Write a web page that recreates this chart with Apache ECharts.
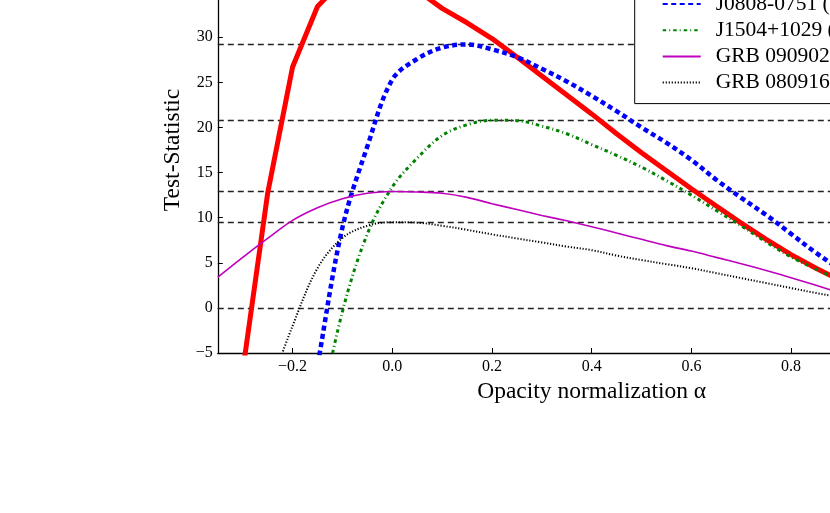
<!DOCTYPE html>
<html><head><meta charset="utf-8">
<script src="https://cdn.jsdelivr.net/npm/echarts@6/dist/echarts.min.js"></script>
<style>html,body{margin:0;padding:0;background:#fff}#c{width:830px;height:513px}</style>
</head><body><div id="c"></div>
<script>
// Opacity normalization alpha (x values)
const alpha = [-0.35,-0.30,-0.25,-0.20,-0.15,-0.10,-0.05,0.00,0.05,0.10,0.15,0.20,0.25,0.30,0.35,0.40,0.45,0.50,0.55,0.60,0.65,0.70,0.75,0.80,0.85,0.90,0.95];
const seriesNames = ['J1016+0513 (z=1.714)','J0808-0751 (z=1.837)','J1504+1029 (z=1.839)','GRB 090902B (z=1.822)','GRB 080916C (z=4.35)'];
// Test-Statistic values per source
const tsJ1016 = [null,-7.0,12.7,26.7,33.4,36.3,37.2,36.8,35.2,33.2,31.6,29.85,27.8,25.7,23.6,21.5,19.3,17.2,15.2,13.2,11.3,9.4,7.6,5.9,4.4,3.0,1.7];
const tsJ0808 = [null,null,null,-22.0,-6.4,8.9,17.9,25.3,27.6,28.85,29.2,28.65,27.8,26.5,25.1,23.5,21.8,20.0,18.3,16.4,14.2,12.2,10.3,8.2,6.1,4.2,2.4];
const tsJ1504 = [null,null,null,null,-13.0,-0.4,8.2,13.4,16.6,19.1,20.3,20.8,20.75,20.15,19.3,18.1,16.9,15.6,14.1,12.5,10.8,9.1,7.3,5.65,4.3,3.1,2.0];
const tsGRB090902 = [3.4,5.6,7.7,9.7,11.1,12.1,12.7,12.9,12.85,12.7,12.25,11.55,10.9,10.25,9.65,9.0,8.3,7.6,6.9,6.3,5.6,4.9,4.15,3.35,2.5,1.65,0.8];
const tsGRB080916 = [null,null,-9.5,-2.0,4.4,7.75,9.1,9.5,9.45,9.1,8.65,8.15,7.7,7.25,6.8,6.4,5.8,5.3,4.85,4.4,3.85,3.3,2.75,2.2,1.65,1.15,0.65];
// maximum TS reference levels (dashed horizontal lines)
const tsMaxLines = [0, 9.51, 12.88, 20.84, 29.2, 37.2];
const xTickValues = [-0.2, 0.0, 0.2, 0.4, 0.6, 0.8, 1.0];

const FONT = 'Liberation Serif';
function pts(ts) {
  const out = [];
  for (let i = 0; i < alpha.length; i++) if (ts[i] !== null) out.push([alpha[i], ts[i]]);
  return out;
}
function minusFmt(v, d) {
  const s = Math.abs(v).toFixed(d);
  return (v < -1e-9 ? '\u2212' : '') + s;
}
const chart = echarts.init(document.getElementById('c'), null, {renderer: 'canvas'});
const styles = [
  {color: '#ff0000', width: 5, type: 'solid', smooth: false},
  {color: '#0000ff', width: 4.5, type: [5, 3.5], smooth: 0.35},
  {color: '#008000', width: 3, type: [3.5, 3, 1, 3], smooth: 0.35},
  {color: '#bf00bf', width: 1.6, type: 'solid', smooth: 0.35},
  {color: '#000000', width: 2, type: [1.2, 1.8], smooth: 0.35}
];
const data = [tsJ1016, tsJ0808, tsJ1504, tsGRB090902, tsGRB080916];
const series = data.map((ts, i) => ({
  name: seriesNames[i], type: 'line', data: pts(ts), symbol: 'none', showSymbol: false,
  smooth: styles[i].smooth, clip: true,
  lineStyle: {color: styles[i].color, width: styles[i].width, type: styles[i].type},
  itemStyle: {color: styles[i].color}, z: 3
}));
series.push({
  name: 'maxlines', type: 'line', data: [], symbol: 'none', z: 2, silent: true,
  markLine: {
    silent: true, z: 2, symbol: ['none', 'none'], label: {show: false},
    lineStyle: {color: '#222', width: 1.4, type: [6, 4]},
    emphasis: {disabled: true},
    data: tsMaxLines.map(v => ({yAxis: v}))
  }
});
chart.setOption({
  animation: false,
  backgroundColor: '#fff',
  grid: {left: 217.8, top: -53, width: 747.75, height: 406, outerBoundsMode: 'none', containLabel: false},
  xAxis: {
    type: 'value', min: -0.35, max: 1.15,
    name: 'Opacity normalization \u03b1', nameLocation: 'middle', nameGap: 20,
    nameTextStyle: {fontFamily: FONT, fontSize: 23.5, color: '#000'},
    axisLine: {onZero: false, lineStyle: {color: '#000', width: 1.3}},
    axisTick: {inside: true, length: 5, customValues: xTickValues, lineStyle: {color: '#000'}},
    axisLabel: {customValues: xTickValues, margin: 6, fontFamily: FONT, fontSize: 16, color: '#000', formatter: v => minusFmt(v, 1)},
    splitLine: {show: false}
  },
  yAxis: {
    type: 'value', min: -5, max: 40, interval: 5,
    name: 'Test-Statistic', nameLocation: 'middle', nameGap: 24,
    nameTextStyle: {fontFamily: FONT, fontSize: 23.5, color: '#000'},
    axisLine: {onZero: false, lineStyle: {color: '#000', width: 1.3}},
    axisTick: {inside: true, length: 5, lineStyle: {color: '#000'}},
    axisLabel: {margin: 5, fontFamily: FONT, fontSize: 16, color: '#000', formatter: v => minusFmt(v, 0)},
    splitLine: {show: false}
  },
  legend: {
    z: 10,
    orient: 'vertical', left: 634.7, top: -44.2,
    padding: [11, 60, 10, 27],
    itemWidth: 38, itemHeight: 14, itemGap: 4.2,
    backgroundColor: '#fff', borderColor: '#000', borderWidth: 1, borderRadius: 0,
    selectedMode: false,
    itemStyle: {opacity: 0, color: 'rgba(0,0,0,0)', borderWidth: 0},
    textStyle: {fontFamily: FONT, fontSize: 21.5, color: '#000', padding: [0, 0, 0, 10]},
    data: seriesNames
  },
  series: series
});
</script></body></html>
